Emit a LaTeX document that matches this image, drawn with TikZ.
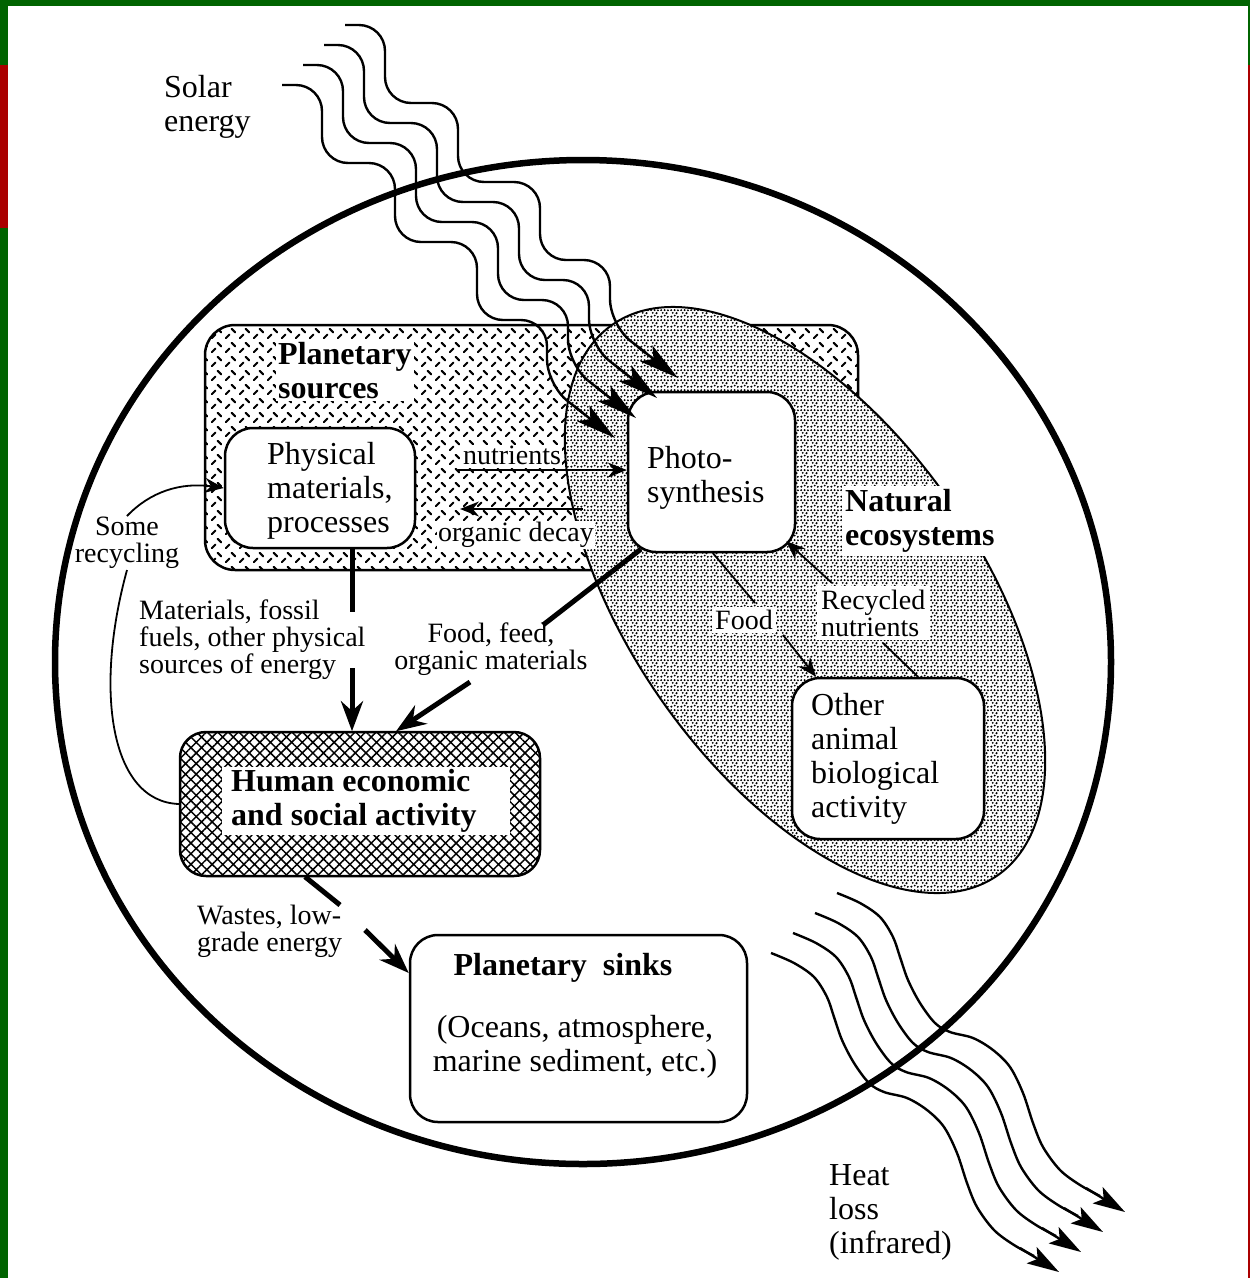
\documentclass[tikz,border=0pt]{standalone}
\usepackage{fontspec}
\setmainfont{Liberation Serif}
\usetikzlibrary{arrows.meta,patterns,patterns.meta,calc}

\definecolor{frgreen}{RGB}{0,100,0}
\definecolor{frred}{RGB}{170,0,0}

\pgfdeclarepatternformonly{diamondplate}{\pgfqpoint{0pt}{0pt}}{\pgfqpoint{14pt}{14pt}}{\pgfqpoint{14pt}{14pt}}{%
  \pgfsetlinewidth{2.2pt}\pgfsetroundcap
  \pgfpathmoveto{\pgfqpoint{2pt}{2pt}}\pgfpathlineto{\pgfqpoint{5.8pt}{5.8pt}}%
  \pgfpathmoveto{\pgfqpoint{8.2pt}{12pt}}\pgfpathlineto{\pgfqpoint{12pt}{8.2pt}}%
  \pgfusepath{stroke}}

\pgfdeclarepatternformonly{stipple}{\pgfqpoint{0pt}{0pt}}{\pgfqpoint{10pt}{10pt}}{\pgfqpoint{10pt}{10pt}}{%
  \pgfpathcircle{\pgfqpoint{1.5pt}{1.4pt}}{1.25pt}%
  \pgfpathcircle{\pgfqpoint{5.2pt}{2.6pt}}{1.2pt}%
  \pgfpathcircle{\pgfqpoint{8.6pt}{1.3pt}}{1.15pt}%
  \pgfpathcircle{\pgfqpoint{3pt}{5.6pt}}{1.15pt}%
  \pgfpathcircle{\pgfqpoint{7.2pt}{5.3pt}}{1.25pt}%
  \pgfpathcircle{\pgfqpoint{1.3pt}{8.6pt}}{1.15pt}%
  \pgfpathcircle{\pgfqpoint{5.1pt}{8.7pt}}{1.2pt}%
  \pgfpathcircle{\pgfqpoint{8.7pt}{8.4pt}}{1.15pt}%
  \pgfusepath{fill}}

\tikzset{
  big/.style={font=\fontsize{32}{34}\selectfont, inner sep=1pt},
  bigb/.style={font=\fontsize{32}{34}\selectfont\bfseries, inner sep=1pt},
  small/.style={font=\fontsize{28}{27}\selectfont, inner sep=1pt},
  box/.style={draw, line width=2.5pt, fill=white, rounded corners=28pt},
  thinline/.style={line width=1.8pt},
  thinarrow/.style={line width=1.8pt, -{Stealth[length=19pt,width=15pt]}},
  thickline/.style={line width=5pt},
  thickarrow/.style={line width=5pt, -{Stealth[length=30pt,width=22pt]}},
  wave/.style={line width=2.4pt},
  solartip/.style={line width=2.4pt, -{Stealth[length=40pt,width=20pt,inset=9pt]}},
  heattip/.style={line width=2.4pt, -{Stealth[length=32pt,width=19pt,inset=7pt]}},
}

\begin{document}
\begin{tikzpicture}[x=1pt,y=-1pt]
\useasboundingbox (0,0) rectangle (1250,1278);
% frame
\fill[white] (0,0) rectangle (1250,1278);
\fill[frgreen] (0,0) rectangle (1250,6);
\fill[frgreen] (0,0) rectangle (8,1278);
\fill[frred] (0,65) rectangle (8,228);
\fill[frgreen] (1248,0) rectangle (1250,65);
\fill[frred] (1248,65) rectangle (1250,1278);

% planet
\draw[line width=6.5pt] (583,662) ellipse[x radius=528, y radius=502];

% planetary sources
\node[draw, line width=2.5pt, rounded corners=30pt, pattern=diamondplate,
      minimum width=653pt, minimum height=245pt] (psrc) at (531.5,447.5) {};

% natural ecosystems
\fill[white, rotate around={-55:(805,600)}] (805,600) ellipse[x radius=336, y radius=175];
\draw[line width=2pt, pattern=stipple, rotate around={-55:(805,600)}] (805,600) ellipse[x radius=336, y radius=175];

% boxes
\node[box, minimum width=190pt, minimum height=120pt] (phys) at (320,488) {};
\node[box, minimum width=167pt, minimum height=160pt] (photo) at (711.5,472) {};
\node[box, minimum width=192pt, minimum height=161pt] (other) at (888,758.5) {};
\node[draw, line width=2.5pt, rounded corners=26pt, preaction={fill=white},
      pattern={Hatch[angle=45,distance=7.5pt,line width=1.5pt]},
      minimum width=360pt, minimum height=144pt] (human) at (360,804) {};
\node[fill=white, minimum width=288pt, minimum height=68pt, inner sep=0pt] (humanin) at (366,801) {};
\node[box, minimum width=337pt, minimum height=187pt] (sinks) at (578.5,1028.5) {};

% labels
\node[big, anchor=west, align=left] (solar) at (163,107) {Solar\\energy};
\node[bigb, anchor=west, align=left, fill=white, inner sep=2pt] (psrcl) at (276,371) {Planetary\\sources};
\node[big, anchor=west, align=left] (physl) at (266,491) {Physical\\materials,\\processes};
\node[small, fill=white] (nutl) at (512,455) {nutrients};
\node[small, fill=white] (decl) at (516,535) {organic decay};
\node[big, anchor=west, align=left] (photol) at (646,478) {Photo-\\synthesis};
\node[bigb, anchor=west, align=left, fill=white, inner sep=3pt] (natl) at (842,521) {Natural\\ecosystems};
\node[small, anchor=west, align=left, fill=white, inner sep=4pt] (recl) at (817,613) {Recycled\\nutrients};
\node[small, fill=white, inner sep=3pt] (foodl) at (744,620) {Food};
\node[big, anchor=west, align=left] (otherl) at (810,759) {Other\\animal\\biological\\activity};
\node[bigb, anchor=west, align=left] (humanl) at (230,801) {Human economic\\and social activity};
\node[small, anchor=west, align=left] (matl) at (138,640) {Materials, fossil\\fuels, other physical\\sources of energy};
\node[small, align=center] (ffl) at (491,649) {Food, feed,\\organic materials};
\node[small, anchor=west, align=left] (wastl) at (196,931) {Wastes, low-\\grade energy};
\node[bigb] (sinksl) at (563,968) {Planetary\ \ sinks};
\node[big, align=center] (oceanl) at (575,1047) {(Oceans, atmosphere,\\marine sediment, etc.)};
\node[big, anchor=west, align=left] (heatl) at (828,1212) {Heat\\loss\\(infrared)};
\node[small, align=center] (recyl) at (127,543) {Some\\recycling};

% coordinates
\coordinate (nutA) at (458,470);
\coordinate (decA) at (583,509);
\coordinate (decB) at (460,509);
\coordinate (matX) at (352,0);
\coordinate (matA) at (352,612);
\coordinate (matB) at (352,668);
\coordinate (ffB) at (543,625);
\coordinate (ffC) at (470,682);
\coordinate (ffX) at (396,0);
\coordinate (fdX) at (713,0);
\coordinate (fdA) at (755,603);
\coordinate (fdB) at (783,635);
\coordinate (fdY) at (816,0);
\coordinate (rcX) at (918,0);
\coordinate (rcA) at (883,643);
\coordinate (rcB) at (832,583);
\coordinate (wsA) at (340,905);
\coordinate (wsB) at (365,930);
\coordinate (wsY) at (0,973);
\coordinate (wsX) at (305,0);

% connectors
\draw[thinarrow] (nutA) -- (nutA -| photo.west);
\draw[thinarrow] (decA) -- (decB);
\draw[thickline] (phys.south -| matX) -- (matA);
\draw[thickarrow] (matB) -- (matB |- human.north);
\draw[thickline] ($(photo.south west)+(14,-4)$) -- (ffB);
\draw[thickarrow] (ffC) -- (human.north -| ffX);
\draw[thinline] (photo.south -| fdX) -- (fdA);
\draw[thinarrow] (fdB) -- (other.north -| fdY);
\draw[thinline] (other.north -| rcX) -- (rcA);
\draw[thinarrow] (rcB) -- ($(photo.south east)+(-10,-12)$);
\draw[thinline] (human.west) .. controls (110,802) and (94,690) .. (recyl.south);
\draw[thinarrow] (recyl.north) .. controls (150,492) and (180,482) .. (phys.west);
\draw[thickline] (human.south -| wsX) -- (wsA);
\draw[thickarrow] (wsB) -- (sinks.west |- wsY);

% solar radiation
\foreach \k in {0,1,2,3} {
  \begin{scope}[shift={(-21*\k,20*\k)}]
    \draw[wave, rounded corners=26pt]
      (345,25) -- (385,25) -- (385,103) -- (458,103) -- (458,182) -- (540,182)
      -- (540,260) -- (610,260) -- (610,325) -- (646,353);
    \coordinate (sA\k) at (638,347);
    \coordinate (sB\k) at (678,378);
    \draw[solartip] (sA\k) -- (sB\k);
  \end{scope}
}

% heat loss
\foreach \k in {0,1,2,3} {
  \begin{scope}[shift={(-22*\k,20*\k)}]
    \draw[wave] plot[smooth, tension=0.55] coordinates
      {(837,893) (860,903) (880,917) (893,937) (900,957) (908,980) (920,1003) (935,1023)
       (950,1032) (973,1038) (993,1050) (1010,1067) (1023,1093) (1033,1123) (1043,1147)
       (1060,1170) (1080,1185) (1100,1196)};
    \coordinate (hA\k) at (1086,1188);
    \coordinate (hB\k) at (1125,1212);
    \draw[heattip] (hA\k) -- (hB\k);
  \end{scope}
}
\end{tikzpicture}
\end{document}
